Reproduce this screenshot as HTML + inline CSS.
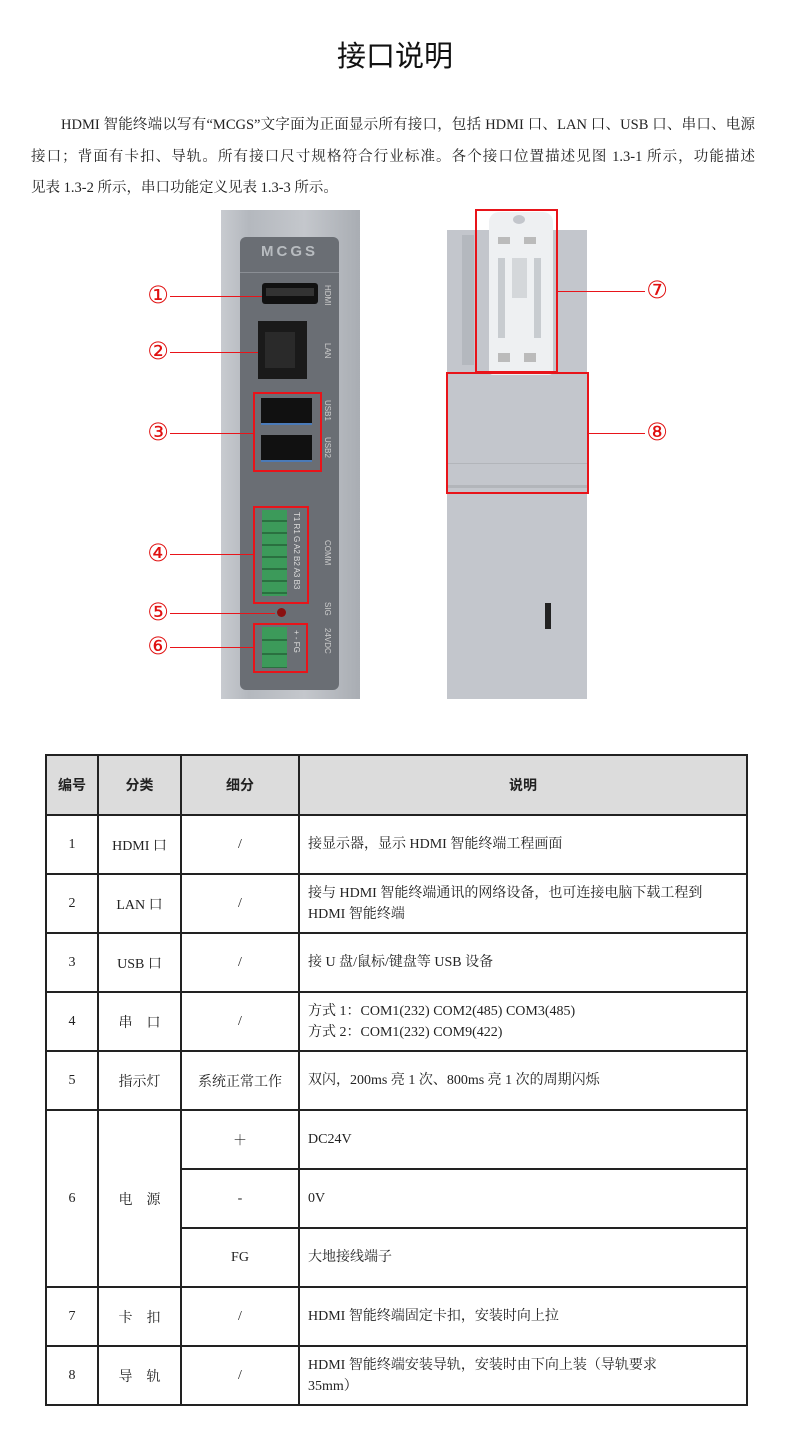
<!DOCTYPE html>
<html><head><meta charset="utf-8">
<style>
*{margin:0;padding:0;box-sizing:border-box}
body{width:790px;height:1438px;background:#fff;position:relative;overflow:hidden;font-family:"Liberation Serif","Noto Serif CJK SC",serif;color:#222}
.a{position:absolute}
.title{left:0;width:790px;top:33px;text-align:center;font:29px "Liberation Sans","Noto Sans CJK SC",sans-serif;color:#111}
.p{left:31px;width:724px;font-size:14.5px;white-space:nowrap;text-align:justify;text-align-last:justify;line-height:20px}
.num{color:#e01010;font-size:24px;font-family:"DejaVu Sans",sans-serif;line-height:24px;width:28px;text-align:center}
.ln{height:1px;background:#e8141a}
.rb{border:2px solid #e8141a}
table{position:absolute;left:45px;top:754px;width:703px;border-collapse:collapse}
td{border:2px solid #222;text-align:center;font-size:14px;height:59px;padding:0 6px}
th{border:2px solid #222;background:#dcdcdc;height:60px;font:bold 14px "Liberation Sans","Noto Sans CJK SC",sans-serif}
td.l{text-align:left;padding-left:8px;line-height:21px}
.lbl{color:#ccc;font:8px "Liberation Sans",sans-serif;writing-mode:vertical-rl}
</style></head><body>
<div class="a title">接口说明</div>
<div class="a p" style="top:115px;left:61px;width:694px">HDMI 智能终端以写有“MCGS”文字面为正面显示所有接口，包括 HDMI 口、LAN 口、USB 口、串口、电源</div>
<div class="a p" style="top:147px">接口；背面有卡扣、导轨。所有接口尺寸规格符合行业标准。各个接口位置描述见图 1.3-1 所示，功能描述</div>
<div class="a p" style="top:178px;text-align-last:left">见表 1.3-2 所示，串口功能定义见表 1.3-3 所示。</div>

<!-- left device -->
<div class="a" style="left:221px;top:210px;width:139px;height:489px;background:linear-gradient(90deg,#c8cbd0,#b4b8be 20%,#c4c7cc 60%,#a9adb3)"></div>
<div class="a" style="left:240px;top:237px;width:99px;height:453px;background:#6a6e74;border-radius:6px"></div>
<div class="a" style="left:240px;top:243px;width:99px;text-align:center;color:#b8bcc0;font:bold 15px 'Liberation Sans',sans-serif;letter-spacing:3px">MCGS</div>
<div class="a" style="left:240px;top:272px;width:99px;height:1px;background:#8a8e94"></div>
<div class="a" style="left:262px;top:283px;width:56px;height:21px;background:#111;border-radius:3px"></div>
<div class="a" style="left:266px;top:288px;width:48px;height:8px;background:#333"></div>
<div class="a lbl" style="left:323px;top:285px">HDMI</div>
<div class="a" style="left:258px;top:321px;width:49px;height:58px;background:#1a1a1a"></div>
<div class="a" style="left:265px;top:332px;width:30px;height:36px;background:#2a2a2a"></div>
<div class="a lbl" style="left:323px;top:343px">LAN</div>
<div class="a" style="left:261px;top:398px;width:51px;height:27px;background:#111;border-bottom:2px solid #4a7ab8"></div>
<div class="a" style="left:261px;top:435px;width:51px;height:27px;background:#111;border-bottom:2px solid #4a7ab8"></div>
<div class="a lbl" style="left:323px;top:400px">USB1</div>
<div class="a lbl" style="left:323px;top:437px">USB2</div>
<div class="a rb" style="left:253px;top:392px;width:69px;height:80px"></div>
<div class="a" style="left:262px;top:510px;width:25px;height:86px;background:repeating-linear-gradient(#3c9a5a 0 10px,#2a7040 10px 12px)"></div>
<div class="a lbl" style="left:292px;top:512px;color:#ddd">T1 R1 G A2 B2 A3 B3</div>
<div class="a lbl" style="left:323px;top:540px">COMM</div>
<div class="a rb" style="left:253px;top:506px;width:56px;height:98px"></div>
<div class="a" style="left:277px;top:608px;width:9px;height:9px;border-radius:50%;background:#8a1010"></div>
<div class="a lbl" style="left:323px;top:602px">SIG</div>
<div class="a" style="left:262px;top:627px;width:25px;height:41px;background:repeating-linear-gradient(#3c9a5a 0 12px,#2a7040 12px 14px)"></div>
<div class="a lbl" style="left:292px;top:630px;color:#ddd">+ - FG</div>
<div class="a lbl" style="left:323px;top:628px">24VDC</div>
<div class="a rb" style="left:253px;top:623px;width:55px;height:50px"></div>

<div class="a num" style="left:144px;top:283px">①</div><div class="a ln" style="left:170px;top:296px;width:92px"></div>
<div class="a num" style="left:144px;top:339px">②</div><div class="a ln" style="left:170px;top:352px;width:88px"></div>
<div class="a num" style="left:144px;top:420px">③</div><div class="a ln" style="left:170px;top:433px;width:83px"></div>
<div class="a num" style="left:144px;top:541px">④</div><div class="a ln" style="left:170px;top:554px;width:83px"></div>
<div class="a num" style="left:144px;top:600px">⑤</div><div class="a ln" style="left:170px;top:613px;width:105px"></div>
<div class="a num" style="left:144px;top:634px">⑥</div><div class="a ln" style="left:170px;top:647px;width:83px"></div>

<!-- right device -->
<div class="a" style="left:447px;top:230px;width:140px;height:469px;background:#c3c6cc"></div>
<div class="a" style="left:462px;top:235px;width:12px;height:130px;background:#b4b8be"></div>
<div class="a" style="left:489px;top:212px;width:64px;height:163px;background:#eef0f2;border-radius:10px 10px 4px 4px"></div>
<div class="a" style="left:513px;top:215px;width:12px;height:9px;border-radius:50%;background:#c3c6cc"></div>
<div class="a" style="left:498px;top:237px;width:12px;height:7px;background:#bbb"></div>
<div class="a" style="left:524px;top:237px;width:12px;height:7px;background:#bbb"></div>
<div class="a" style="left:498px;top:258px;width:7px;height:80px;background:#c8ccd0"></div>
<div class="a" style="left:534px;top:258px;width:7px;height:80px;background:#c8ccd0"></div>
<div class="a" style="left:512px;top:258px;width:15px;height:40px;background:#d4d7da"></div>
<div class="a" style="left:498px;top:353px;width:12px;height:9px;background:#bbb"></div>
<div class="a" style="left:524px;top:353px;width:12px;height:9px;background:#bbb"></div>
<div class="a rb" style="left:475px;top:209px;width:83px;height:164px"></div>
<div class="a" style="left:447px;top:463px;width:140px;height:1px;background:#b2b5ba"></div>
<div class="a" style="left:447px;top:485px;width:140px;height:3px;background:#b2b5ba"></div>
<div class="a rb" style="left:446px;top:372px;width:143px;height:122px"></div>
<div class="a" style="left:545px;top:603px;width:6px;height:26px;background:#222"></div>
<div class="a num" style="left:643px;top:278px">⑦</div><div class="a ln" style="left:558px;top:291px;width:87px"></div>
<div class="a num" style="left:643px;top:420px">⑧</div><div class="a ln" style="left:589px;top:433px;width:56px"></div>

<table>
<tr><th style="width:52px">编号</th><th style="width:83px">分类</th><th style="width:118px">细分</th><th>说明</th></tr>
<tr><td>1</td><td>HDMI 口</td><td>/</td><td class="l">接显示器，显示 HDMI 智能终端工程画面</td></tr>
<tr><td>2</td><td>LAN 口</td><td>/</td><td class="l">接与 HDMI 智能终端通讯的网络设备，也可连接电脑下载工程到<br>HDMI 智能终端</td></tr>
<tr><td>3</td><td>USB 口</td><td>/</td><td class="l">接 U 盘/鼠标/键盘等 USB 设备</td></tr>
<tr><td>4</td><td>串　口</td><td>/</td><td class="l">方式 1：COM1(232) COM2(485) COM3(485)<br>方式 2：COM1(232) COM9(422)</td></tr>
<tr><td>5</td><td>指示灯</td><td>系统正常工作</td><td class="l">双闪，200ms 亮 1 次、800ms 亮 1 次的周期闪烁</td></tr>
<tr><td rowspan="3">6</td><td rowspan="3">电　源</td><td>＋</td><td class="l">DC24V</td></tr>
<tr><td>-</td><td class="l">0V</td></tr>
<tr><td>FG</td><td class="l">大地接线端子</td></tr>
<tr><td>7</td><td>卡　扣</td><td>/</td><td class="l">HDMI 智能终端固定卡扣，安装时向上拉</td></tr>
<tr><td>8</td><td>导　轨</td><td>/</td><td class="l">HDMI 智能终端安装导轨，安装时由下向上装（导轨要求<br>35mm）</td></tr>
</table>
</body></html>
